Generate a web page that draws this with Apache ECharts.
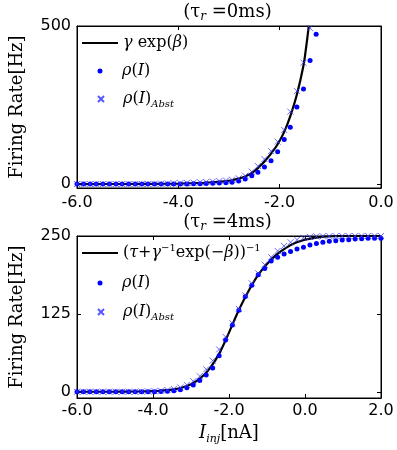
<!DOCTYPE html>
<html><head><meta charset="utf-8">
<script src="https://cdn.jsdelivr.net/npm/echarts@6/dist/echarts.min.js"></script>
<style>html,body{margin:0;padding:0;background:#fff}#c{width:397px;height:450px}</style>
</head><body><div id="c"></div>
<script>
// ---- top panel (tau_r = 0 ms) ----
const topX = [-6.00,-5.87,-5.74,-5.62,-5.49,-5.36,-5.23,-5.11,-4.98,-4.85,-4.72,-4.60,-4.47,-4.34,-4.21,-4.09,-3.96,-3.83,-3.70,-3.57,-3.45,-3.32,-3.19,-3.06,-2.94,-2.81,-2.68,-2.55,-2.43,-2.30,-2.17,-2.04,-1.91,-1.79,-1.66,-1.53,-1.40,-1.28];
const topRho = [0,0,0,0,0,0,0,0,0,0,0,0,0,0,0,0,0.3,0.5,0.8,1.2,1.7,2.3,3,4,5.5,10,16,26,37,54,74,102,141,180,244,301,391,474];
const topAbst = [0,0,0,0,0,0,0,0,0.1,0.2,0.3,0.5,0.7,1.0,1.4,2,2.7,3.5,4.5,5.5,6.5,8,9.5,11,13.6,18,26,39,57,79,104,134,171,229,294,384,493];
const topLineX = [-6.0,-5.0,-4.5,-4.0,-3.5,-3.25,-3.06,-2.94,-2.81,-2.68,-2.55,-2.43,-2.30,-2.17,-2.04,-1.91,-1.79,-1.66,-1.53,-1.48,-1.425];
const topLineY = [0,0.2,0.6,1.5,4,6.5,9,12,17,24,35,50,71,96,126,165,215,283,375,430,500];
const topXTicks = [-6,-4,-2,0];
const topYTicks = [0,500];

// ---- bottom panel (tau_r = 4 ms) ----
const botX = [-6.00,-5.83,-5.66,-5.49,-5.32,-5.15,-4.98,-4.81,-4.64,-4.47,-4.30,-4.13,-3.96,-3.79,-3.62,-3.45,-3.28,-3.11,-2.94,-2.77,-2.60,-2.43,-2.26,-2.09,-1.91,-1.74,-1.57,-1.40,-1.23,-1.06,-0.89,-0.72,-0.55,-0.38,-0.21,-0.04,0.13,0.30,0.47,0.64,0.81,0.98,1.15,1.32,1.49,1.66,1.83,2.00];
const botRho = [0,0,0,0,0,0,0,0,0,0,0,0,0.2,0.4,0.8,1.5,3.2,6.4,10.7,18,27,38,58,83,107,131,153,171,188,198,210,216,221,225,229,232,235.6,238,240,241.5,242.5,243.6,244,245,245.7,246.3,246.3,246.5];
const botAbst = [0,0,0,0,0,0,0,0,0,0,0.3,0.6,1,1.7,2.8,4.5,7,11,17,25,36,50,68,88,110,133,155,174,190,204,216,226,234,240,244,247,248.5,249.3,249.6,249.7,249.8,249.9,250,250,250,250,250,250];
const botLineX = [-6.0,-5.0,-4.5,-4.0,-3.75,-3.5,-3.25,-3.0,-2.75,-2.5,-2.25,-2.0,-1.75,-1.5,-1.25,-1.0,-0.75,-0.5,-0.25,0.0,0.25,0.5,0.75,1.0,1.5,2.0];
const botLineY = [0,0.1,0.4,1,2,3.5,6.5,12,22,38,62,95,130,160,186,205,220,231,239,244,247,249,249.7,250,250,250];
const botXTicks = [-6,-4,-2,0,2];
const botYTicks = [0,125,250];

const titles = ['(τ{s|r} =0ms)', '(τ{s|r} =4ms)'];
const names = {
  lineTop: 'γ exp(β)',
  lineBot: '(τ+γ⁻¹exp(−β))⁻¹',
  rho: 'ρ(I)',
  abst: 'ρ(I)Abst'
};

const zip = (a, b) => a.map((v, i) => [v, b[i]]);
const SERIF = 'DejaVu Serif';
const SANS = 'DejaVu Sans';
const BLUE = '#0000ff';
const XBLUE = '#3a3aff';
const CROSS = 'path://M0,0L10,10M10,0L0,10';

const chart = echarts.init(document.getElementById('c'), null, {renderer: 'canvas'});

const gridTop = {left: 74, top: 26, width: 307, height: 162};
const gridBot = {left: 74, top: 236, width: 307, height: 162};

function xAxes(gi, min, max, ticks, name, margin) {
  const base = {
    gridIndex: gi, type: 'value', min: min, max: max, interval: 2,
    splitLine: {show: false},
    axisLine: {show: true, onZero: false, lineStyle: {color: '#000', width: 1}},
    axisTick: {show: true, inside: true, length: 4, lineStyle: {color: '#000'}, customValues: ticks}
  };
  const bottom = Object.assign({}, base, {
    position: 'bottom',
    axisLabel: {show: true, customValues: ticks, formatter: v => v.toFixed(1), fontFamily: SANS, fontSize: 16, color: '#000', margin: margin}
  });
  if (name) {
    Object.assign(bottom, {
      name: '{i|I}{s|inj}[nA]', nameLocation: 'middle', nameGap: 23,
      nameTextStyle: {fontFamily: SERIF, fontSize: 18, color: '#000', lineHeight: 24,
        rich: {i: {fontFamily: SERIF, fontSize: 18, fontStyle: 'italic', lineHeight: 24},
               s: {fontFamily: SERIF, fontSize: 11, fontStyle: 'italic', verticalAlign: 'bottom', lineHeight: 14}}}
    });
  }
  const top = Object.assign({}, base, {position: 'top', axisLabel: {show: false}});
  return [bottom, top];
}
function yAxes(gi, min, max, ticks) {
  const base = {
    gridIndex: gi, type: 'value', min: min, max: max,
    splitLine: {show: false},
    axisLine: {show: true, onZero: false, lineStyle: {color: '#000', width: 1}},
    axisTick: {show: true, inside: true, length: 4, lineStyle: {color: '#000'}, customValues: ticks}
  };
  const left = Object.assign({}, base, {
    position: 'left',
    axisLabel: {show: true, customValues: ticks, fontFamily: SANS, fontSize: 16, color: '#000', margin: 6},
    name: 'Firing Rate[Hz]', nameLocation: 'middle', nameRotate: 90, nameGap: 51,
    nameTextStyle: {fontFamily: SERIF, fontSize: 18, color: '#000'}
  });
  const right = Object.assign({}, base, {position: 'right', axisLabel: {show: false}});
  return [left, right];
}

const richLeg = {
  m: {fontFamily: SERIF, fontSize: 16, fontStyle: 'italic', color: '#000', lineHeight: 20},
  n: {fontFamily: SERIF, fontSize: 16, color: '#000', lineHeight: 20},
  sub: {fontFamily: SERIF, fontSize: 10, fontStyle: 'italic', color: '#000', verticalAlign: 'bottom', lineHeight: 12},
  sup: {fontFamily: SERIF, fontSize: 10, color: '#000', verticalAlign: 'top', lineHeight: 12}
};
const legFmt = {
  [names.lineTop]: '{m|γ}{n| exp(}{m|β}{n|)}',
  [names.lineBot]: '{n|(}{m|τ}{n|+}{m|γ}{sup|−1}{n|exp(−}{m|β}{n|))}{sup|−1}',
  [names.rho]: '{m|ρ}{n|(}{m|I}{n|)}',
  [names.abst]: '{m|ρ}{n|(}{m|I}{n|)}{sub|Abst}'
};
// item: legend entry; cx = icon centre x (or left for line), cy = centre y
function legend(name, left, cy, iw, ih, padLeft, icon) {
  return {
    data: [icon ? {name: name, icon: icon} : name], left: left, top: cy - 10, padding: 0, orient: 'vertical',
    itemWidth: iw, itemHeight: ih, itemGap: 0, selectedMode: false,
    formatter: n => legFmt[n],
    textStyle: {fontFamily: SERIF, fontSize: 16, color: '#000', lineHeight: 20, rich: richLeg, padding: [0, 0, 0, padLeft]}
  };
}

const option = {
  animation: false,
  backgroundColor: '#fff',
  title: titles.map((t, i) => ({
    text: t, left: 227.5, textAlign: 'center', top: i === 0 ? 1 : 211, padding: 0,
    textStyle: {fontFamily: SERIF, fontSize: 18, fontWeight: 'normal', color: '#000', lineHeight: 22,
      rich: {s: {fontFamily: SERIF, fontSize: 12, fontStyle: 'italic', verticalAlign: 'bottom', lineHeight: 14, color: '#000'}}}
  })),
  grid: [Object.assign({show: true, borderColor: '#000', borderWidth: 1, backgroundColor: 'transparent'}, gridTop),
         Object.assign({show: true, borderColor: '#000', borderWidth: 1, backgroundColor: 'transparent'}, gridBot)],
  xAxis: [...xAxes(0, -6, 0, topXTicks, false, 7), ...xAxes(1, -6, 2, botXTicks, true, 5)],
  yAxis: [...yAxes(0, -12.5, 500, topYTicks), ...yAxes(1, -10, 250, botYTicks)],
  legend: [
    legend(names.lineTop, 82, 43, 36, 2.2, 0, 'rect'),
    legend(names.rho, 97.5, 71, 5, 5, 14.5),
    legend(names.abst, 97, 99, 6, 6, 14),
    legend(names.lineBot, 82, 253, 36, 2.2, 0, 'rect'),
    legend(names.rho, 97.5, 283, 5, 5, 14.5),
    legend(names.abst, 97, 312, 6, 6, 14)
  ],
  series: [
    {name: names.lineTop, type: 'line', xAxisIndex: 0, yAxisIndex: 0, data: zip(topLineX, topLineY),
     symbol: 'none', smooth: 0.3, lineStyle: {color: '#000', width: 2.2}, itemStyle: {color: '#000'}, z: 2},
    {name: names.rho, type: 'scatter', xAxisIndex: 0, yAxisIndex: 0, data: zip(topX, topRho),
     symbol: 'circle', symbolSize: 5, itemStyle: {color: BLUE, opacity: 1}, z: 3},
    {name: names.abst, type: 'scatter', xAxisIndex: 0, yAxisIndex: 0, data: zip(topX.slice(0, topAbst.length), topAbst),
     symbol: CROSS, symbolSize: 6, itemStyle: {color: XBLUE, borderColor: XBLUE, borderWidth: 0.9, opacity: 0.85}, z: 4},
    {name: names.lineBot, type: 'line', xAxisIndex: 2, yAxisIndex: 2, data: zip(botLineX, botLineY),
     symbol: 'none', smooth: 0.3, lineStyle: {color: '#000', width: 2.2}, itemStyle: {color: '#000'}, z: 2},
    {name: names.rho, type: 'scatter', xAxisIndex: 2, yAxisIndex: 2, data: zip(botX, botRho),
     symbol: 'circle', symbolSize: 5, itemStyle: {color: BLUE, opacity: 1}, z: 3},
    {name: names.abst, type: 'scatter', xAxisIndex: 2, yAxisIndex: 2, data: zip(botX, botAbst),
     symbol: CROSS, symbolSize: 6, itemStyle: {color: XBLUE, borderColor: XBLUE, borderWidth: 0.9, opacity: 0.85}, z: 4}
  ]
};
chart.setOption(option);
</script>
</body></html>
